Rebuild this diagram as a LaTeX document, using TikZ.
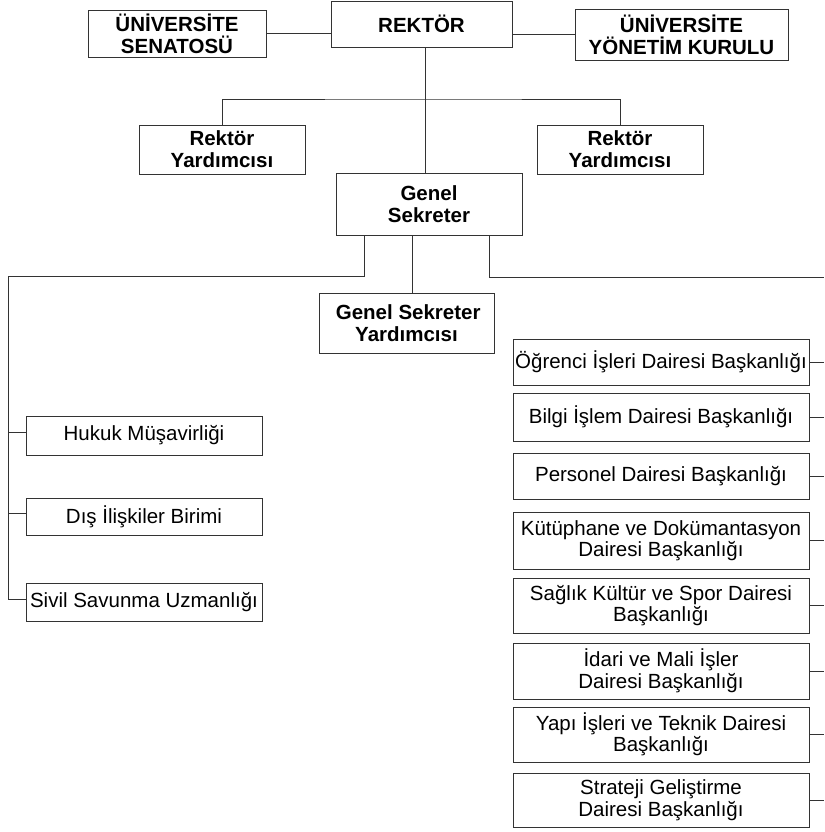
\documentclass[tikz,border=0pt]{standalone}
\usepackage{fontspec}
\setmainfont{Liberation Sans}
\usepackage{tikz}

\begin{document}
\begin{tikzpicture}[x=1pt,y=-1pt,
  line/.style={draw=black!80,line width=0.9pt},
  unit/.style={line,align=center,inner sep=0pt,font=\fontsize{20.5}{22}\selectfont},
  head/.style={unit,font=\bfseries\fontsize{20.5}{22}\selectfont},
  dept/.style={unit,minimum width=296pt,font=\fontsize{20.5}{21.5}\selectfont},
  office/.style={unit,minimum width=236pt}]
  \useasboundingbox (0,0) rectangle (824,832);
  % top level
  \node[head,minimum width=181pt,minimum height=46pt] (rektor) at (421.5,24) {REKT\"OR};
  \node[head,minimum width=178pt,minimum height=47pt] (senato) at (177,33.5) {\"UN\.IVERS\.ITE\\SENATOS\"U};
  \node[head,minimum width=213pt,minimum height=51pt] (ykurul) at (681.5,34.5) {\"UN\.IVERS\.ITE\\Y\"ONET\.IM KURULU};
  \node[head,minimum width=166pt,minimum height=49pt] (ryard1) at (222,149.5) {Rekt\"or\\Yard{\i}mc{\i}s{\i}};
  \node[head,minimum width=166pt,minimum height=49pt] (ryard2) at (620,149.5) {Rekt\"or\\Yard{\i}mc{\i}s{\i}};
  \node[head,minimum width=186pt,minimum height=62pt] (gsek) at (429,204) {Genel\\Sekreter};
  \node[head,minimum width=175pt,minimum height=60pt] (gsyard) at (406.5,323) {\,Genel Sekreter\\Yard{\i}mc{\i}s{\i}};
  % left column
  \node[office,minimum height=39pt] (hukuk) at (144,435.5) {Hukuk M\"u\c{s}avirli\u{g}i};
  \node[office,minimum height=37pt] (disil) at (144,516.5) {D{\i}\c{s} \.Ili\c{s}kiler Birimi};
  \node[office,minimum height=38pt] (sivil) at (144,602) {Sivil Savunma Uzmanl{\i}\u{g}{\i}};
  % right column
  \node[dept,minimum height=46pt] (ogrenci) at (661,362) {\"O\u{g}renci \.I\c{s}leri Dairesi Ba\c{s}kanl{\i}\u{g}{\i}};
  \node[dept,minimum height=48pt] (bilgi) at (661,417) {Bilgi \.I\c{s}lem Dairesi Ba\c{s}kanl{\i}\u{g}{\i}};
  \node[dept,minimum height=46pt] (personel) at (661,476) {Personel Dairesi Ba\c{s}kanl{\i}\u{g}{\i}};
  \node[dept,minimum height=57pt] (kutup) at (661,540.5) {K\"ut\"uphane ve Dok\"umantasyon\\Dairesi Ba\c{s}kanl{\i}\u{g}{\i}};
  \node[dept,minimum height=55pt] (saglik) at (661,605.5) {Sa\u{g}l{\i}k K\"ult\"ur ve Spor Dairesi\\Ba\c{s}kanl{\i}\u{g}{\i}};
  \node[dept,minimum height=56pt] (idari) at (661,671) {\.Idari ve Mali \.I\c{s}ler\\Dairesi Ba\c{s}kanl{\i}\u{g}{\i}};
  \node[dept,minimum height=55pt] (yapi) at (661,734.5) {Yap{\i} \.I\c{s}leri ve Teknik Dairesi\\Ba\c{s}kanl{\i}\u{g}{\i}};
  \node[dept,minimum height=54pt] (strateji) at (661,800) {Strateji Geli\c{s}tirme\\Dairesi Ba\c{s}kanl{\i}\u{g}{\i}};
  % buses
  \coordinate (ryhat) at (425,99);
  \coordinate (lbus) at (8,276);
  \coordinate (rbus) at (824,277);
  % connectors
  \draw[line] (senato.east) -- (senato.east -| rektor.west);
  \draw[line] (ykurul.west) -- (ykurul.west -| rektor.east);
  \draw[line] ([xshift=3.5pt]rektor.south) -- ([xshift=3.5pt]rektor.south |- gsek.north);
  \draw[line] (ryard1.north) |- (ryhat) -| (ryard2.north);
  \draw[line] ([xshift=-65pt]gsek.south) |- (lbus) |- ([yshift=3pt]sivil.west);
  \draw[line] ([yshift=3pt]hukuk.west) -- ([yshift=3pt]hukuk.west -| lbus);
  \draw[line] ([yshift=3.5pt]disil.west) -- ([yshift=3.5pt]disil.west -| lbus);
  \draw[line] ([xshift=-17pt]gsek.south) -- ([xshift=-17pt]gsek.south |- gsyard.north);
  \draw[line] ([xshift=60pt]gsek.south) |- (rbus);
  \foreach \d in {ogrenci,bilgi,personel,kutup,saglik,idari,yapi,strateji}
    \draw[line] (\d.east) -- (\d.east -| rbus);
\end{tikzpicture}
\end{document}
